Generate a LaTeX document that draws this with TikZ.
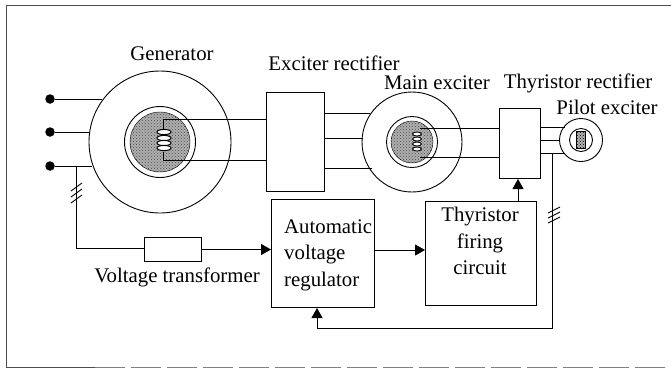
\documentclass[tikz,border=0pt]{standalone}
\usepackage{fontspec}
\setmainfont{Liberation Serif}
\usetikzlibrary{arrows.meta, positioning, patterns}
\definecolor{coregray}{RGB}{175, 175, 175}
\tikzset{
  blockbox/.style={draw, line width=1pt, inner sep=0pt, anchor=north west},
  wire/.style={draw, line width=0.9pt},
  feed/.style={draw, line width=0.9pt, -{Triangle[length=10pt, width=11pt]}},
  terminal/.style={circle, fill=black, inner sep=0pt, minimum size=9.5pt},
  label/.style={font=\fontsize{20.8}{26.5}\selectfont, inner sep=0pt},
  ring/.style={circle, draw, line width=0.9pt, inner sep=0pt},
  core/.style={circle, preaction={fill=coregray}, pattern=crosshatch dots, pattern color=black!70, draw, inner sep=0pt},
}
\begin{document}
\begin{tikzpicture}[x=1pt, y=-1pt]
  \useasboundingbox (0,0) rectangle (671,368);
  % frame
  \draw[line width=1pt, black!70] (671,5) -- (6,5) -- (6,367) -- (95,367);
  \draw[line width=1pt, black!50, dash pattern=on 30pt off 6pt] (95,367) -- (671,367);
  % generator
  \node[ring, minimum size=142pt] (gen) at (160,142) {};
  \node[ring, minimum size=71pt] (genring) at (160,142) {};
  \node[core, minimum size=60pt] (gencore) at (160,142) {};
  \node[terminal] (t1) at (50,99) {};
  \node[terminal] (t2) at (50,132) {};
  \node[terminal] (t3) at (50,166) {};
  \coordinate (g1) at (102,99);
  \coordinate (g2) at (89,132);
  \coordinate (g3) at (92,166);
  \draw[wire] (t1) -- (g1);
  \draw[wire] (t2) -- (g2);
  \draw[wire] (t3) -- (g3);
  % exciter rectifier
  \node[blockbox, minimum width=58pt, minimum height=99pt] (exrect) at (266,92) {};
  \draw[wire] (exrect.west |- 0,119) -- (163,119) -- (163,129);
  \draw[wire] (exrect.west |- 0,160) -- (163,160) -- (163,152);
  \foreach \y in {132,138,143,148}
    \draw[line width=1pt, fill=white] (164,\y) ellipse (7pt and 2.6pt);
  % main exciter
  \node[ring, minimum size=100pt] (mex) at (412,142) {};
  \node[ring, minimum size=51pt] (mexring) at (412,142) {};
  \node[core, minimum size=42pt] (mexcore) at (412,142) {};
  \foreach \y/\x in {113/370, 138/363, 168/372}
    \draw[wire] (exrect.east |- 0,\y) -- (\x,\y);
  \foreach \y in {134,139,144,149}
    \draw[line width=0.9pt, fill=white] (417,\y) ellipse (4.5pt and 2pt);
  % thyristor rectifier
  \node[blockbox, minimum width=41pt, minimum height=70pt] (thrrect) at (499,108) {};
  \coordinate (mw1) at (420,128);
  \coordinate (mw2) at (420,157);
  \draw[wire] (mw1) -- (thrrect.west |- mw1);
  \draw[wire] (mw2) -- (thrrect.west |- mw2);
  % pilot exciter
  \node[ring, minimum size=43pt] (pilot) at (581,140) {};
  \node[ring, minimum size=23pt] (pilotring) at (581,140) {};
  \node[draw, preaction={fill=coregray}, pattern=crosshatch dots, minimum width=9pt, minimum height=17pt, inner sep=0pt] (pilotcore) at (581,140) {};
  \foreach \y/\x in {127/565, 140/559, 153/565}
    \draw[wire] (thrrect.east |- 0,\y) -- (\x,\y);
  % lower blocks
  \node[blockbox, minimum width=57pt, minimum height=24pt] (vt) at (144,237) {};
  \node[blockbox, minimum width=103pt, minimum height=108pt] (avr) at (271,199) {};
  \node[blockbox, minimum width=111pt, minimum height=104pt] (fire) at (425,201) {};
  \coordinate (tap) at (76,166);
  \coordinate (tapb) at (76,248);
  \draw[wire] (tap) -- (tapb) -- (vt.west |- tapb);
  \draw[feed] (vt.east) -- (avr.west |- vt.east);
  \draw[feed] (avr.east |- 0,250) -- (fire.west |- 0,250);
  \draw[feed] (fire.north -| 518,0) -- (thrrect.south -| 518,0);
  \coordinate (fb1) at (552,153);
  \coordinate (fb2) at (552,328);
  \coordinate (fb3) at (317,328);
  \draw[feed] (fb1) -- (fb2) -- (fb3) -- (avr.south -| fb3);
  % slashes
  \foreach \y in {187,193,199}
    \draw[line width=0.9pt] (71,\y+4) -- (82,\y-4);
  \foreach \y in {210,215,220}
    \draw[line width=0.9pt] (548,\y+3) -- (560,\y-3);
  % labels
  \node[label] (lgen) at (172,54) {Generator};
  \node[label] (lexrect) at (334,63) {Exciter rectifier};
  \node[label] (lmex) at (437,83) {Main exciter};
  \node[label] (lthr) at (578,83) {Thyristor rectifier};
  \node[label] (lpilot) at (607,107) {Pilot exciter};
  \node[label] (lvt) at (177,277) {Voltage transformer};
  \node[label, align=left, anchor=west] (lavr) at (284,255) {Automatic\\voltage\\regulator};
  \node[label, align=center] (lfire) at (480,241) {Thyristor\\firing\\circuit};
\end{tikzpicture}
\end{document}
